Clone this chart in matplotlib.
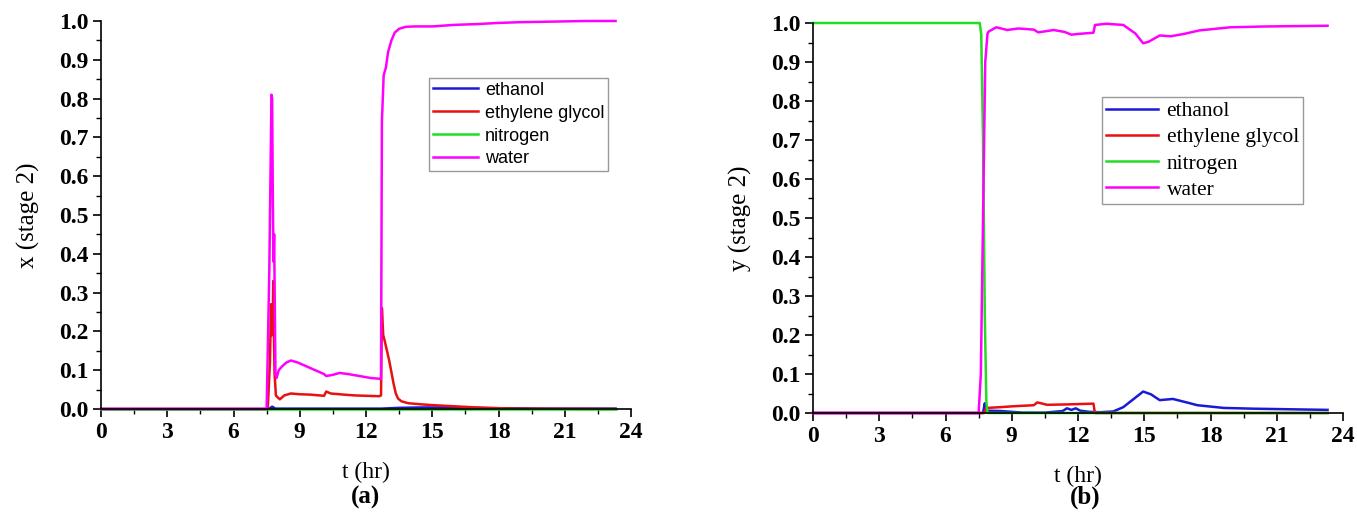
import matplotlib
matplotlib.use("Agg")
import matplotlib.pyplot as plt
from matplotlib.ticker import MultipleLocator

# ---- liquid composition on stage 2 (panel a) ----
t_a_ethanol = [0, 7.6, 7.75, 7.9, 8.5, 12.7, 13.5, 14.5, 15.5, 16.5, 18.0, 20.0, 23.3]
x_ethanol = [0, 0, 0.006, 0.001, 0.001, 0.001, 0.003, 0.004, 0.004, 0.003, 0.002, 0.001, 0.001]

t_a_glycol = [0, 7.55, 7.65, 7.70, 7.73, 7.77, 7.80, 7.83, 7.86, 7.92, 8.0, 8.1, 8.3, 8.6,
              9.0, 9.5, 10.1, 10.2, 10.4, 11.0, 11.5, 12.0, 12.6, 12.68, 12.72, 12.78,
              12.85, 12.95, 13.05, 13.15, 13.25, 13.35, 13.45, 13.6, 13.9, 14.5, 15.0,
              16.0, 17.0, 18.0, 19.0, 23.3]
x_glycol = [0, 0, 0.12, 0.27, 0.19, 0.20, 0.33, 0.19, 0.09, 0.035, 0.03, 0.025, 0.035, 0.04,
            0.038, 0.037, 0.034, 0.045, 0.04, 0.037, 0.035, 0.034, 0.033, 0.035, 0.26, 0.19,
            0.175, 0.15, 0.125, 0.095, 0.065, 0.04, 0.027, 0.02, 0.015, 0.012, 0.01, 0.007,
            0.004, 0.002, 0.001, 0]

t_a_nitrogen = [0, 23.3]
x_nitrogen = [0, 0]

t_a_water = [0, 7.50, 7.62, 7.72, 7.75, 7.78, 7.81, 7.84, 7.90, 7.95, 8.05, 8.2, 8.4, 8.6,
             8.9, 9.3, 9.7, 10.1, 10.2, 10.5, 10.8, 11.2, 11.7, 12.2, 12.6, 12.68, 12.72,
             12.8, 12.9, 13.0, 13.15, 13.3, 13.5, 13.8, 14.2, 15.0, 16.0, 17.0, 18.0, 19.0,
             20.0, 21.0, 22.0, 23.3]
x_water = [0, 0, 0.35, 0.81, 0.80, 0.55, 0.38, 0.45, 0.09, 0.08, 0.10, 0.11, 0.12, 0.125,
           0.12, 0.11, 0.10, 0.09, 0.085, 0.088, 0.093, 0.09, 0.085, 0.08, 0.078, 0.077, 0.74,
           0.86, 0.88, 0.92, 0.95, 0.97, 0.98, 0.985, 0.986, 0.986, 0.99, 0.992, 0.995, 0.997,
           0.998, 0.999, 1.0, 1.0]

# ---- vapour composition on stage 2 (panel b) ----
t_b_ethanol = [0, 7.7, 7.78, 7.82, 7.9, 8.5, 9.0, 9.5, 10.5, 11.3, 11.5, 11.7, 11.9, 12.1,
               12.5, 13.0, 13.6, 14.05, 14.5, 14.95, 15.3, 15.7, 16.3, 17.0, 17.4, 18.6,
               20.0, 21.1, 23.3]
y_ethanol = [0, 0, 0.025, 0.01, 0.006, 0.005, 0.003, 0.001, 0.001, 0.005, 0.012, 0.008,
             0.012, 0.006, 0.003, 0.002, 0.004, 0.015, 0.035, 0.055, 0.048, 0.033, 0.036,
             0.026, 0.02, 0.013, 0.011, 0.01, 0.008]

t_b_glycol = [0, 7.75, 7.85, 8.5, 9.0, 10.0, 10.15, 10.25, 10.6, 11.5, 12.7, 12.75, 12.8, 23.3]
y_glycol = [0, 0, 0.013, 0.015, 0.017, 0.02, 0.027, 0.026, 0.021, 0.022, 0.024, 0.005, 0, 0]

t_b_nitrogen = [0, 7.55, 7.62, 7.7, 7.78, 7.85, 7.9, 23.3]
y_nitrogen = [1, 1, 0.97, 0.7, 0.25, 0.03, 0, 0]

t_b_water = [0, 7.5, 7.6, 7.7, 7.8, 7.9, 7.95, 8.3, 8.8, 9.3, 10.0, 10.2, 10.9, 11.4, 11.7,
             12.0, 12.7, 12.77, 13.3, 14.05, 14.6, 14.95, 15.2, 15.7, 16.2, 16.8, 17.5,
             18.9, 20.4, 23.3]
y_water = [0, 0, 0.1, 0.5, 0.9, 0.972, 0.978, 0.989, 0.982, 0.986, 0.983, 0.976, 0.982,
           0.977, 0.970, 0.972, 0.975, 0.995, 0.998, 0.995, 0.973, 0.948, 0.952, 0.968,
           0.966, 0.972, 0.981, 0.989, 0.991, 0.993]

labels = ["ethanol", "ethylene glycol", "nitrogen", "water"]
colors = ["#1a1ad6", "#e81010", "#22dd22", "#ff00ff"]

x_ticks = [0, 3, 6, 9, 12, 15, 18, 21, 24]
y_ticks = [0.0, 0.1, 0.2, 0.3, 0.4, 0.5, 0.6, 0.7, 0.8, 0.9, 1.0]

SERIF = "Liberation Serif"
SANS = "Liberation Sans"

fig = plt.figure(figsize=(13.57, 5.27), dpi=100)
ax_a = fig.add_axes([101 / 1357, 1 - 409 / 527, 530 / 1357, 388 / 527])
ax_b = fig.add_axes([813 / 1357, 1 - 413 / 527, 530 / 1357, 390 / 527])


def style_axes(ax, ylabel):
    ax.set_xlim(0, 24)
    ax.set_ylim(0, 1.0)
    for side in ("top", "right"):
        ax.spines[side].set_visible(False)
    for side in ("left", "bottom"):
        ax.spines[side].set_linewidth(1.2)
    ax.set_xticks(x_ticks)
    ax.set_yticks(y_ticks)
    ax.set_yticklabels([f"{v:.1f}" for v in y_ticks])
    ax.xaxis.set_minor_locator(MultipleLocator(1.5))
    ax.yaxis.set_minor_locator(MultipleLocator(0.05))
    ax.tick_params(which="major", direction="out", length=6, width=1.2, pad=3)
    ax.tick_params(which="minor", direction="out", length=3.5, width=1.0)
    for lab in ax.get_xticklabels() + ax.get_yticklabels():
        lab.set_fontfamily(SERIF)
        lab.set_fontweight("bold")
        lab.set_fontsize(17)
    ax.set_xlabel("t (hr)", fontfamily=SERIF, fontsize=17, labelpad=14)
    ax.set_ylabel(ylabel, fontfamily=SERIF, fontsize=18, labelpad=14)


# panel (a)
for t, v, lab, c in zip([t_a_ethanol, t_a_glycol, t_a_nitrogen, t_a_water],
                        [x_ethanol, x_glycol, x_nitrogen, x_water], labels, colors):
    ax_a.plot(t, v, color=c, lw=1.8, label=lab, clip_on=False)
style_axes(ax_a, "x (stage 2)")
leg_a = ax_a.legend(loc="upper left", bbox_to_anchor=(429 / 1357, 1 - 78 / 527),
                    bbox_transform=fig.transFigure, frameon=True, fancybox=False,
                    prop={"family": SANS, "size": 13}, handlelength=2.5,
                    handletextpad=0.4, labelspacing=0.33, borderpad=0.2,
                    borderaxespad=0)
leg_a.get_frame().set_edgecolor("#808080")
leg_a.get_frame().set_linewidth(1.0)

# panel (b)
for t, v, lab, c in zip([t_b_ethanol, t_b_glycol, t_b_nitrogen, t_b_water],
                        [y_ethanol, y_glycol, y_nitrogen, y_water], labels, colors):
    ax_b.plot(t, v, color=c, lw=1.8, label=lab, clip_on=False)
style_axes(ax_b, "y (stage 2)")
leg_b = ax_b.legend(loc="upper left", bbox_to_anchor=(1102 / 1357, 1 - 97 / 527),
                    bbox_transform=fig.transFigure, frameon=True, fancybox=False,
                    prop={"family": SERIF, "size": 15.5}, handlelength=2.4,
                    handletextpad=0.4, labelspacing=0.28, borderpad=0.2,
                    borderaxespad=0)
leg_b.get_frame().set_edgecolor("#808080")
leg_b.get_frame().set_linewidth(1.0)

fig.text(366 / 1357, 1 - 497 / 527, "(a)", ha="center", va="center",
         fontfamily=SERIF, fontweight="bold", fontsize=18)
fig.text(1085 / 1357, 1 - 497 / 527, "(b)", ha="center", va="center",
         fontfamily=SERIF, fontweight="bold", fontsize=18)

fig.savefig("out.png", dpi=100, facecolor="white")
